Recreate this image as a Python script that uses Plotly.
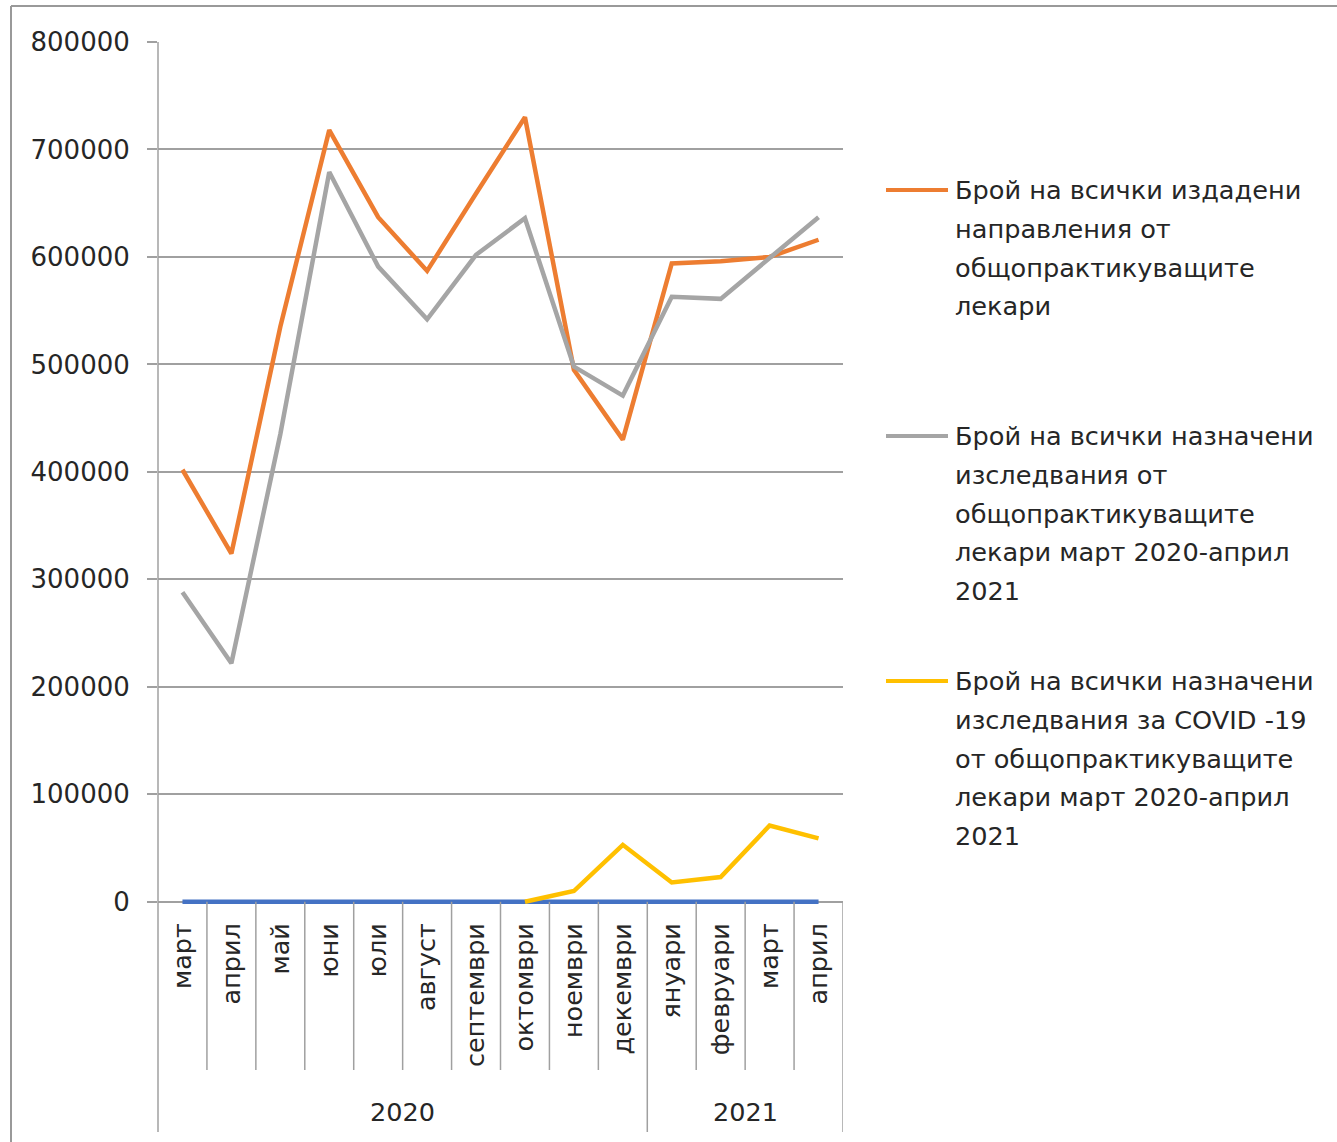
import plotly.graph_objects as go

# ---- data -------------------------------------------------------------
months = ["март", "април", "май", "юни", "юли", "август", "септември",
          "октомври", "ноември", "декември", "януари", "февруари", "март", "април"]
years = ["2020"] * 10 + ["2021"] * 4

referrals = [402000, 324000, 535000, 718000, 637000, 587000, 659000,
             730000, 495000, 430000, 594000, 596000, 600000, 616000]
examinations = [288000, 222000, 435000, 679000, 591000, 542000, 602000,
                636000, 498000, 471000, 563000, 561000, 599000, 637000]
covid_exams = [None, None, None, None, None, None, None,
               0, 10000, 53000, 18000, 23000, 71000, 59000]
baseline = [0] * 14

series_names = [
    "Брой на всички издадени направления от общопрактикуващите лекари",
    "Брой на всички назначени изследвания от общопрактикуващите лекари март 2020-април 2021",
    "Брой на всички назначени изследвания за COVID -19 от общопрактикуващите лекари март 2020-април 2021",
]
legend_lines = [
    ["Брой на всички издадени", "направления от", "общопрактикуващите", "лекари"],
    ["Брой на всички назначени", "изследвания от", "общопрактикуващите",
     "лекари март 2020-април", "2021"],
    ["Брой на всички назначени", "изследвания за COVID -19", "от общопрактикуващите",
     "лекари март 2020-април", "2021"],
]
colors = ["#ED7D31", "#A5A5A5", "#FFC000"]
base_color = "#4472C4"

# ---- geometry ---------------------------------------------------------
W, H = 1337, 1142
ML, MR, MT, MB = 158, 494, 42, 231
PW, PH = W - ML - MR, H - MT - MB
Y_MIN, Y_MAX = -8560, 800000

FONT = "DejaVu Sans"
TXT = "#262626"
GRID = "#a0a0a0"


def px_y(py):
    """pixel row -> paper y"""
    return (H - MB - py) / PH


def px_x(px):
    """pixel column -> paper x"""
    return (px - ML) / PW


zero_frac = (0 - Y_MIN) / (Y_MAX - Y_MIN)
x_idx = list(range(len(months)))

fig = go.Figure()
# flat zero series first, the three measured series on top of it
fig.add_trace(go.Scatter(x=x_idx, y=baseline, mode="lines", showlegend=False,
                         line=dict(color=base_color, width=4.5), hoverinfo="skip"))
for vals, name, col in zip([referrals, examinations, covid_exams], series_names, colors):
    fig.add_trace(go.Scatter(x=x_idx, y=vals, mode="lines", name=name, showlegend=False,
                             line=dict(color=col, width=4.5), connectgaps=False))

shapes = []
# category dividers below the axis
cat_bottom = px_y(1070)
year_bottom = px_y(1132)
for i in range(len(months) - 1):
    boundary = years[i] != years[i + 1]
    shapes.append(dict(type="line", xref="x", yref="paper", x0=i + 0.5, x1=i + 0.5,
                       y0=zero_frac, y1=year_bottom if boundary else cat_bottom,
                       line=dict(color=GRID, width=1.5)))
shapes.append(dict(type="line", xref="x", yref="paper", x0=len(months) - 0.5,
                   x1=len(months) - 0.5, y0=zero_frac, y1=year_bottom,
                   line=dict(color=GRID, width=1.5)))
# value axis line, continued through the category area
shapes.append(dict(type="line", xref="paper", yref="paper", x0=0, x1=0,
                   y0=1, y1=year_bottom, line=dict(color=GRID, width=1.5)))
# outer frame
shapes.append(dict(type="line", xref="paper", yref="paper", x0=px_x(11), x1=px_x(W + 5),
                   y0=px_y(6), y1=px_y(6), line=dict(color="#999999", width=2)))
shapes.append(dict(type="line", xref="paper", yref="paper", x0=px_x(11), x1=px_x(11),
                   y0=px_y(6), y1=px_y(H + 5), line=dict(color="#999999", width=2)))

annotations = []
# year group labels
groups = []
for i, y in enumerate(years):
    if groups and groups[-1][0] == y:
        groups[-1][2] = i
    else:
        groups.append([y, i, i])
for label, a, b in groups:
    annotations.append(dict(text=label, xref="x", yref="paper", x=(a + b) / 2, y=px_y(1112),
                            showarrow=False, xanchor="center", yanchor="middle",
                            font=dict(family=FONT, size=25.5, color=TXT)))

# legend block
legend_tops = [190, 436, 681]
LINE_GAP = 38.8
for top, lines, col in zip(legend_tops, legend_lines, colors):
    shapes.append(dict(type="line", xref="paper", yref="paper", x0=px_x(886), x1=px_x(948),
                       y0=px_y(top), y1=px_y(top), line=dict(color=col, width=4)))
    for k, line in enumerate(lines):
        annotations.append(dict(text=line, xref="paper", yref="paper", x=px_x(953),
                                y=px_y(top + k * LINE_GAP), showarrow=False,
                                xanchor="left", yanchor="middle",
                                font=dict(family=FONT, size=25.6, color=TXT)))

fig.update_layout(
    width=W, height=H, autosize=False,
    margin=dict(l=ML, r=MR, t=MT, b=MB, pad=0),
    paper_bgcolor="white", plot_bgcolor="white",
    showlegend=False,
    shapes=shapes, annotations=annotations,
    xaxis=dict(range=[-0.5, len(months) - 0.5], tickmode="array", tickvals=x_idx,
               ticktext=months, tickangle=-90, showgrid=False, zeroline=False,
               showline=False, ticks="", ticklabelstandoff=6,
               tickfont=dict(family=FONT, size=25.5, color=TXT)),
    yaxis=dict(range=[Y_MIN, Y_MAX], tickmode="array",
               tickvals=list(range(0, 800001, 100000)),
               ticktext=[str(v) for v in range(0, 800001, 100000)],
               showgrid=True, gridcolor=GRID, gridwidth=2, zeroline=False,
               showline=False, ticks="outside", ticklen=10, tickcolor=GRID, tickwidth=2,
               ticklabelstandoff=12,
               tickfont=dict(family=FONT, size=26, color=TXT)),
)

fig.write_html("out.html")
